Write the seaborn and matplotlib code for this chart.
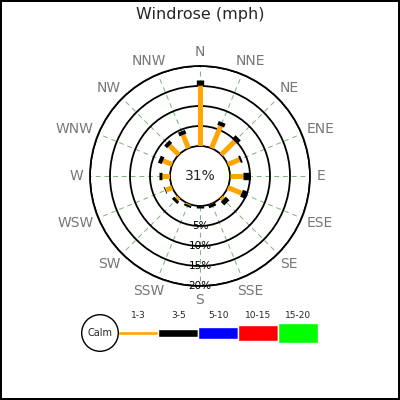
import numpy as np
import pandas as pd
import matplotlib
matplotlib.use("Agg")
import matplotlib.pyplot as plt
from matplotlib.patches import Circle
from matplotlib.transforms import ScaledTranslation
import seaborn as sns

# --- data ------------------------------------------------------------------
directions = ["N", "NNE", "NE", "ENE", "E", "ESE", "SE", "SSE",
              "S", "SSW", "SW", "WSW", "W", "WNW", "NW", "NNW"]
# percent of observations per direction, per speed bin (mph)
pct_1_3 = [15.2, 6.0, 4.75, 3.2, 3.25, 3.75, 0.75, 0.1,
           0.0, 0.3, 0.75, 1.75, 2.0, 2.5, 3.25, 3.6]
pct_3_5 = [1.4, 1.0, 1.25, 0.5, 1.75, 1.5, 1.25, 0.75,
           0.6, 0.5, 0.75, 0.2, 0.75, 1.0, 1.0, 1.0]
calm_pct = 31

bin_labels = ["1-3", "3-5", "5-10", "10-15", "15-20"]
bin_colors = ["orange", "black", "blue", "red", "lime"]
legend_heights = [3.3, 8.3, 12.3, 16.7, 20.7]   # swatch thickness, px
ring_pcts = [5, 10, 15, 20]

sns.set_style("white")
plt.rcParams["font.family"] = ["DejaVu Sans"]

fig = plt.figure(figsize=(4, 4), dpi=100)
fig.patch.set_edgecolor("black")
fig.patch.set_linewidth(1.5)

# --- rose --------------------------------------------------------------------
ax = fig.add_axes([0.225, 0.285, 0.55, 0.55], projection="polar")
ax.set_theta_zero_location("N")
ax.set_theta_direction(-1)

theta = np.deg2rad(np.arange(len(directions)) * 22.5)
rows = []
for i, th in enumerate(theta):
    base = 0.0
    for b, vals in enumerate([pct_1_3, pct_3_5]):
        rows.append((th, base, bin_labels[b], f"{i}-{b}"))
        rows.append((th, base + vals[i], bin_labels[b], f"{i}-{b}"))
        base += vals[i]
segs = pd.DataFrame(rows, columns=["theta", "pct", "bin", "seg"])

sns.lineplot(
    data=segs, x="theta", y="pct", hue="bin", size="bin", units="seg",
    estimator=None, sort=False, legend=False, ax=ax,
    palette=dict(zip(bin_labels, bin_colors)),
    sizes={"1-3": 3.6, "3-5": 5.3},
    solid_capstyle="butt", zorder=5,
)
ax.set_xlabel("")
ax.set_ylabel("")

ax.set_ylim(0, 20)
ax.set_rorigin(-7.5)
ax.set_thetagrids(np.rad2deg(theta), [""] * len(directions))
ax.set_rgrids(ring_pcts, [""] * len(ring_pcts))
ax.yaxis.grid(True, color="black", lw=1.3, ls="-")
ax.xaxis.grid(True, color="#4a9a4a", lw=0.7, ls=(0, (5, 4)), alpha=0.75)
for sp in ax.spines.values():
    sp.set_color("black")
    sp.set_linewidth(1.3)

# compass labels: anchored on a circle just outside the rose, pushed
# outward by half their own extent so wide labels clear the frame
renderer = fig.canvas.get_renderer()
for th, name in zip(theta, directions):
    t = ax.text(th, 21.75, name, ha="center", va="center", fontsize=10,
                color="#777777", clip_on=False)
    bb = t.get_window_extent(renderer)
    dx = bb.width / 2 * np.sin(th)
    dy = bb.height / 2 * np.cos(th)
    t.set_transform(ax.transData + ScaledTranslation(
        dx / fig.dpi, dy / fig.dpi, fig.dpi_scale_trans))

for p in ring_pcts:
    ax.text(np.pi, p, f"{p}%", ha="center", va="center", fontsize=7.5,
            color="black", zorder=6)
ax.text(0.5, 0.5, f"{calm_pct}%", transform=ax.transAxes,
        ha="center", va="center", fontsize=10)

fig.text(0.5, 1 - 15 / 400, "Windrose (mph)", ha="center", va="center",
         fontsize=11.5)

# --- speed legend ------------------------------------------------------------
lax = fig.add_axes([0, 0, 1, 1], zorder=-1)
lax.set_xlim(0, 400)
lax.set_ylim(400, 0)
lax.axis("off")
lax.add_patch(Circle((100, 333), 18.3, facecolor="white",
                     edgecolor="black", lw=1, zorder=3))
lax.text(100, 333, "Calm", ha="center", va="center", fontsize=7, zorder=4)
centers = [138.3 + 40 * i for i in range(len(bin_labels))]
lax.bar(centers, legend_heights, width=40,
        bottom=[333 - h / 2 for h in legend_heights], color=bin_colors)
for c, lab in zip(centers, bin_labels):
    lax.text(c, 315, lab, ha="center", va="center", fontsize=6.5)

fig.savefig("out.png", dpi=100)
